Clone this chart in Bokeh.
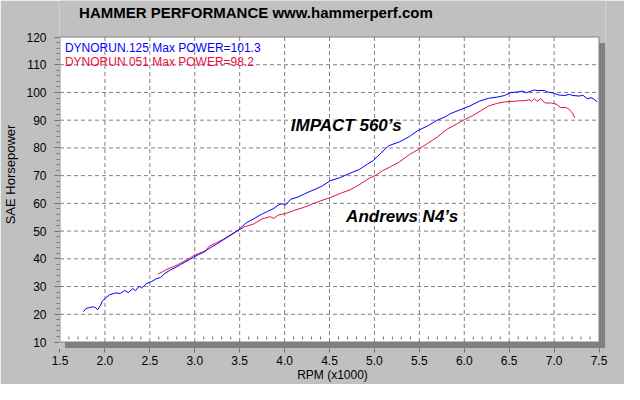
from bokeh.plotting import figure
from bokeh.models import Range1d, FixedTicker, PrintfTickFormatter, Label
from bokeh.embed import file_html
from bokeh.resources import INLINE

# ---------------- data ----------------
blue_rpm = [1.76, 1.79, 1.83, 1.87, 1.90, 1.92, 1.95, 1.97, 2.01, 2.05, 2.12, 2.17, 2.22, 2.26,
            2.31, 2.34, 2.38, 2.41, 2.46, 2.52, 2.57, 2.62, 2.67, 2.73, 2.78, 2.84, 2.89, 2.94,
            2.99, 3.04, 3.09, 3.14, 3.20, 3.25, 3.32, 3.39, 3.47, 3.52, 3.57, 3.65, 3.74, 3.81,
            3.87, 3.93, 3.97, 4.01, 4.07, 4.15, 4.26, 4.35, 4.42, 4.51, 4.62, 4.73, 4.83, 4.92,
            4.99, 5.07, 5.16, 5.28, 5.39, 5.48, 5.59, 5.70, 5.80, 5.84, 5.95, 6.06, 6.17, 6.27,
            6.36, 6.45, 6.51, 6.60, 6.65, 6.69, 6.72, 6.78, 6.81, 6.89, 6.92, 6.99, 7.05, 7.12,
            7.17, 7.21, 7.28, 7.32, 7.37, 7.41, 7.44, 7.48]
blue_hp = [20.9, 22.1, 22.4, 22.7, 22.3, 21.6, 23.2, 24.7, 25.9, 27.0, 27.7, 27.5, 28.6, 27.8,
           29.3, 28.5, 30.1, 29.5, 31.0, 31.8, 32.8, 33.3, 34.8, 36.0, 36.8, 37.9, 38.8, 39.7,
           40.6, 41.5, 42.2, 43.3, 44.5, 45.4, 46.9, 48.3, 50.0, 51.4, 52.9, 54.3, 56.0, 57.1,
           58.0, 59.4, 59.9, 59.4, 61.5, 62.3, 64.0, 65.2, 66.3, 68.2, 69.3, 70.9, 72.2, 74.1,
           75.5, 78.1, 80.8, 82.2, 84.1, 86.2, 87.9, 90.0, 91.4, 92.3, 93.7, 95.1, 96.9, 97.9,
           98.3, 98.9, 99.9, 100.2, 100.5, 99.9, 100.2, 100.9, 100.7, 100.7, 100.2, 99.8, 99.1, 98.9,
           99.3, 98.9, 98.7, 99.0, 97.7, 98.1, 97.7, 96.6]

red_rpm = [2.59, 2.64, 2.69, 2.75, 2.80, 2.87, 2.93, 2.98, 3.05, 3.12, 3.16, 3.23, 3.32, 3.41,
           3.47, 3.55, 3.65, 3.75, 3.84, 3.88, 3.93, 4.01, 4.11, 4.22, 4.31, 4.40, 4.51, 4.62,
           4.73, 4.83, 4.94, 5.03, 5.09, 5.18, 5.28, 5.39, 5.48, 5.59, 5.70, 5.76, 5.81, 5.91,
           6.00, 6.09, 6.18, 6.27, 6.36, 6.45, 6.58, 6.69, 6.72, 6.75, 6.78, 6.81, 6.85, 6.90,
           6.97, 7.03, 7.07, 7.13, 7.17, 7.21, 7.23]
red_hp = [34.5, 35.3, 36.2, 37.0, 37.7, 38.9, 39.9, 41.0, 42.0, 42.9, 44.5, 45.6, 47.1, 48.9,
          50.0, 51.5, 52.5, 54.4, 55.2, 54.6, 55.8, 56.3, 57.5, 58.6, 59.8, 60.9, 62.1, 63.6,
          64.9, 66.7, 69.0, 70.4, 71.8, 73.2, 75.0, 77.6, 79.3, 81.6, 83.9, 85.5, 86.8, 88.5,
          90.2, 91.6, 93.3, 95.1, 96.0, 96.6, 96.9, 97.1, 97.4, 96.8, 97.8, 96.8, 97.7, 96.2,
          96.2, 95.7, 94.6, 94.6, 93.9, 92.3, 90.8]

x_ticks = [1.5, 2.0, 2.5, 3.0, 3.5, 4.0, 4.5, 5.0, 5.5, 6.0, 6.5, 7.0, 7.5]
y_ticks = [10, 20, 30, 40, 50, 60, 70, 80, 90, 100, 110, 120]

title_text = "HAMMER PERFORMANCE www.hammerperf.com"
x_label = "RPM (x1000)"
y_label = "SAE Horsepower"
legend_blue = "DYNORUN.125  Max POWER=101.3"
legend_red = "DYNORUN.051  Max POWER=98.2"
note_blue = "IMPACT 560\u2019s"
note_red = "Andrews N4\u2019s"

BLUE = "#0000FF"
RED = "#E8103C"
BG = "#C0C0C0"
SHADOW = "#808080"
FONT = "Liberation Sans"

# ---------------- layout (figure pixels) ----------------
W, H = 624, 384
F_L, F_T, FW, FH = 56, 0, 549, 348           # frame (reaches the top of the canvas)
WL, WB = 56.5, 341.5                          # white plot area left / bottom edge
SX = 542 / 6.0                                # px per 1000 rpm
SY = 305 / 110.0                              # px per hp
WT = WB - 110 * SY

x_start = 1.5 - (WL - F_L) / SX
x_end = x_start + FW / SX
y_end = 120 + (WT - F_T) / SY
y_start = y_end - FH / SY


def dx(fx):
    return 1.5 + (fx - WL) / SX


def dy(fy):
    return 10 + (WB - fy) / SY


p = figure(width=W, height=H, x_range=Range1d(x_start, x_end), y_range=Range1d(y_start, y_end),
           output_backend="svg", toolbar_location=None, title=None,
           min_border_left=F_L, min_border_right=W - F_L - FW,
           min_border_top=F_T, min_border_bottom=H - F_T - FH)
p.grid.visible = False
p.background_fill_color = BG
p.border_fill_color = BG
p.outline_line_color = None

# frame shadow and white plot area
p.quad(left=[dx(WL + 5)], right=[x_end], bottom=[y_start], top=[dy(WT + 6)],
       fill_color=SHADOW, line_color=None)
p.quad(left=[1.5], right=[7.5], bottom=[10], top=[120],
       fill_color="white", line_color=SHADOW, line_width=1)

# dashed grid
vx = x_ticks[1:-1]
p.segment(x0=vx, x1=vx, y0=[10] * len(vx), y1=[120] * len(vx),
          line_color=SHADOW, line_dash="4 3", line_width=1)
hy = y_ticks[1:-1]
p.segment(x0=[1.5] * len(hy), x1=[7.5] * len(hy), y0=hy, y1=hy,
          line_color=SHADOW, line_dash="4 3", line_width=1)

# minor ticks along bottom inside plot
mx = [1.5 + 0.1 * i for i in range(1, 60) if i % 5 != 0]
p.segment(x0=mx, x1=mx, y0=[dy(WB - 2.5)] * len(mx), y1=[dy(WB - 5.5)] * len(mx),
          line_color="#707070", line_width=1)

# curves
p.line(red_rpm, red_hp, line_color=RED, line_width=1)
p.line(blue_rpm, blue_hp, line_color=BLUE, line_width=1)

# axes
xa = p.xaxis[0]
xa.ticker = FixedTicker(ticks=x_ticks, minor_ticks=[])
xa.formatter = PrintfTickFormatter(format="%.1f")
xa.axis_line_color = None
xa.major_tick_in = 0
xa.major_tick_out = 4
xa.major_tick_line_color = "#707070"
xa.major_label_standoff = 3
xa.major_label_text_font = FONT
xa.major_label_text_font_size = "12px"
xa.major_label_text_color = "black"
xa.axis_label = x_label
xa.axis_label_standoff = 0
xa.axis_label_text_font = FONT
xa.axis_label_text_font_size = "12px"
xa.axis_label_text_font_style = "normal"
xa.axis_label_text_color = "black"

ya = p.yaxis[0]
ya.ticker = FixedTicker(ticks=y_ticks, minor_ticks=[v for v in range(12, 120, 2) if v % 10])
ya.axis_line_color = None
ya.major_tick_in = 0
ya.major_tick_out = 5
ya.minor_tick_in = 0
ya.minor_tick_out = 3
ya.major_tick_line_color = "#707070"
ya.minor_tick_line_color = "#707070"
ya.major_label_standoff = 8
ya.major_label_text_font = FONT
ya.major_label_text_font_size = "12px"
ya.major_label_text_color = "black"
ya.axis_label = y_label
ya.axis_label_standoff = 5
ya.axis_label_text_font = FONT
ya.axis_label_text_font_size = "13px"
ya.axis_label_text_font_style = "normal"
ya.axis_label_text_color = "black"

# texts (reference pixel positions scaled to this canvas)
p.add_layout(Label(x=dx(260 * 0.975), y=dy(12 * 0.96), text=title_text, text_align="center",
                   text_baseline="middle", text_font=FONT, text_font_size="15px",
                   text_font_style="bold", text_color="black"))
p.add_layout(Label(x=dx(63 * 0.975), y=dy(49.5 * 0.96), text=legend_blue, text_align="left",
                   text_baseline="middle", text_font=FONT, text_font_size="12px",
                   text_color=BLUE))
p.add_layout(Label(x=dx(63 * 0.975), y=dy(64.5 * 0.96), text=legend_red, text_align="left",
                   text_baseline="middle", text_font=FONT, text_font_size="12px",
                   text_color=RED))
p.add_layout(Label(x=dx(296 * 0.975), y=dy(130 * 0.96), text=note_blue, text_align="left",
                   text_baseline="middle", text_font=FONT, text_font_size="17px",
                   text_font_style="bold italic", text_color="black"))
p.add_layout(Label(x=dx(353 * 0.975), y=dy(225 * 0.96), text=note_red, text_align="left",
                   text_baseline="middle", text_font=FONT, text_font_size="17px",
                   text_font_style="bold italic", text_color="black"))

open("out.html", "w").write(file_html(p, INLINE))
